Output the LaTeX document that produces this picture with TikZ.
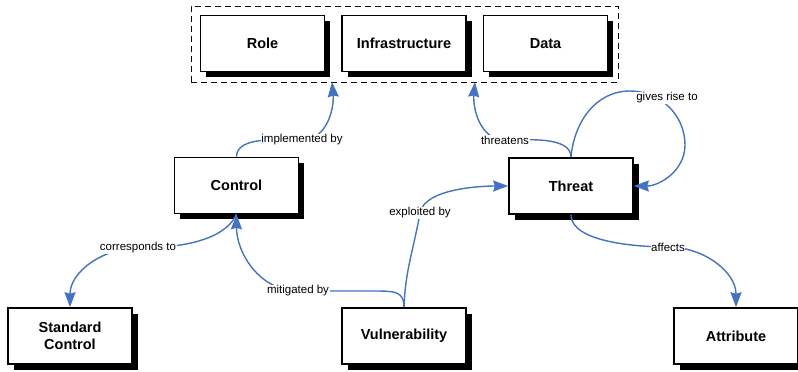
\documentclass[tikz,border=0pt]{standalone}
\usepackage{fontspec}
\setmainfont{Liberation Sans}
\usetikzlibrary{arrows.meta,shadows}
\definecolor{linkblue}{RGB}{68,114,196}
\begin{document}
\begin{tikzpicture}[x=1pt,y=1pt,
  box/.style={draw=black, line width=1.6pt, fill=white, minimum width=124pt, minimum height=56pt,
    font=\fontsize{14.5}{17}\selectfont\bfseries, align=center, inner sep=0pt,
    drop shadow={shadow xshift=5.5pt, shadow yshift=-5.5pt, fill=black, opacity=1}},
  grpbox/.style={draw=black, line width=1pt, dash pattern=on 6pt off 4pt, minimum width=427pt, minimum height=76pt, inner sep=0pt},
  lbl/.style={fill=white, inner sep=0.6pt, font=\fontsize{11.5}{13}\selectfont},
  link/.style={draw=linkblue, line width=1.4pt, -{Stealth[length=15pt,width=11pt,inset=1.5pt]}}]
\useasboundingbox (0,0) rectangle (798,-372);
% group
\node[grpbox] (grp) at (404.5,-44) {};
% boxes
\node[box] (role)    at (262.5,-43.5) {Role};
\node[box] (infra)   at (404,-43.5)   {Infrastructure};
\node[box] (data)    at (545.5,-43.5) {Data};
\node[box] (control) at (236.5,-185.5) {Control};
\node[box] (threat)  at (571,-186)    {Threat};
\node[box] (std)     at (70,-336)     {Standard\\Control};
\node[box] (vuln)    at (404,-336)    {Vulnerability};
\node[box] (attr)    at (736,-336)    {Attribute};
% label positions and free ends
\coordinate (cImpl) at (302,-140);
\coordinate (endImpl) at (332,-82);
\coordinate (cThr) at (505,-140);
\coordinate (endThr) at (475,-82);
\coordinate (cGive) at (667,-98);
\coordinate (cExp) at (420,-213);
\coordinate (cMit) at (298,-291);
\coordinate (cCor) at (138,-248);
\coordinate (cAff) at (668,-247);
% connectors
\draw[link] (control.north) to[out=90,in=180,looseness=0.8] (cImpl) to[out=0,in=-85] (endImpl);
\draw[link] (threat.north) to[out=90,in=0,looseness=0.8] (cThr) to[out=180,in=-95] (endThr);
\draw[link] (threat.north) to[out=85,in=180] (630,-91) to[out=0,in=90] (685,-145) to[out=-90,in=0] (threat.east);
\draw[link] (vuln.north) to[out=88,in=-100] (cExp) to[out=80,in=180,looseness=0.7] (threat.west);
\draw[link] (vuln.north) .. controls (404,-292) and (396,-291) .. (375,-291) -- (cMit) to[out=180,in=-90] (control.south);
\draw[link] (control.south) to[out=-115,in=0,looseness=0.8] (cCor) to[out=180,in=90] (std.north);
\draw[link] (threat.south) to[out=-90,in=180,looseness=0.7] (cAff) to[out=0,in=90] (attr.north);
% labels
\node[lbl] (lImpl) at (cImpl) {implemented by};
\node[lbl] (lThr)  at (cThr)  {threatens};
\node[lbl] (lGive) at (cGive) {gives rise to};
\node[lbl] (lExp)  at (cExp)  {exploited by};
\node[lbl] (lMit)  at (cMit)  {mitigated by};
\node[lbl] (lCor)  at (cCor)  {corresponds to};
\node[lbl] (lAff)  at (cAff)  {affects};
\end{tikzpicture}
\end{document}
